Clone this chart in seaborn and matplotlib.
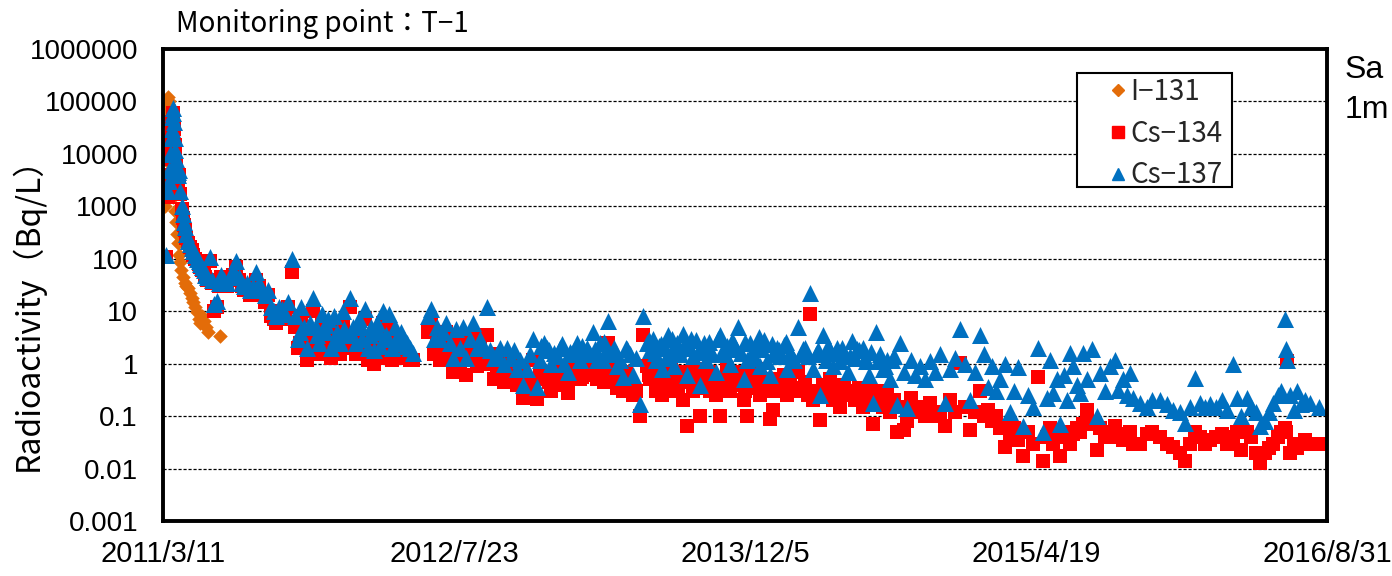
import numpy as np
import pandas as pd
import matplotlib
matplotlib.use("Agg")
import matplotlib.pyplot as plt
import seaborn as sns
from matplotlib.lines import Line2D
from matplotlib.patches import Rectangle
from matplotlib.ticker import NullLocator

# ---------------- data (days since 2011/3/11, Bq/L) ----------------
START = "2011-03-11"

i131_days = [2, 3, 4, 5, 6, 7, 8, 9, 10, 11, 12, 13, 14, 15, 16, 17, 18, 20, 22, 24,
             26, 28, 29, 31, 34, 37, 40, 43, 46, 49, 52, 55, 58, 61, 64, 67, 70, 74, 77, 98]
i131_vals = [3000, 1000, 8000, 20000, 40000, 60000, 90000, 120000, 100000, 70000,
             40000, 20000, 10000, 6000, 4000, 2500, 1500, 800, 500, 300,
             200, 120, 85, 60, 45, 35, 30, 28, 22, 18, 15, 12, 9.5, 7, 6, 8, 6.5, 5, 4, 3.4]

cs_days = [5, 8, 10, 11, 12, 13, 14, 15, 16, 17, 18, 19, 20, 21, 22, 23, 24, 25, 26, 28,
           30, 32, 34, 36, 38, 40, 43, 46, 49, 52, 55, 58, 61, 64, 67, 70, 73, 76, 80, 84,
           88, 92, 96, 100, 105, 110, 115, 120, 125, 130, 135, 140, 145, 150, 155, 160, 165, 170, 175, 180,
           185, 190, 195, 200, 205, 210, 215, 222,
           227, 232, 237, 242, 247, 253, 258, 263, 268, 273, 278, 283, 289, 294, 299, 304, 309, 314, 321, 326,
           332, 337, 342, 347, 352, 357, 362, 368, 373, 378, 383, 388, 393, 399, 404, 409, 414, 419, 424, 430,
           455, 460, 466, 471, 476, 481, 486, 493, 498, 503, 510, 515, 521, 527, 533, 539, 545, 551, 557, 562,
           569, 574, 579, 586, 591, 598, 603, 608, 613, 618, 625, 631, 636, 643, 648,
           655, 660, 667, 672, 677, 682, 689, 696, 701, 706, 711, 716, 723, 728, 734, 739, 746, 751, 756, 761,
           765, 770, 775, 780, 785, 790, 795, 802, 807, 819, 825,
           831, 837, 842, 847, 852, 857, 862, 868, 873, 878, 883, 888, 893, 900, 905, 911, 916, 923, 928, 933,
           938, 943, 950, 957, 962, 969, 974, 981, 988, 993, 998, 1003, 1008, 1015, 1020, 1026, 1033, 1038, 1043, 1048,
           1055, 1060, 1067, 1072, 1077, 1084, 1091, 1096, 1103, 1112, 1117,
           1122, 1129, 1134, 1139, 1146, 1151, 1158, 1163, 1170, 1177, 1184, 1189, 1196, 1203, 1208, 1213, 1220, 1225, 1232, 1237,
           1244, 1249, 1256, 1261, 1266, 1273, 1278, 1285, 1292, 1301, 1309, 1318, 1326, 1335, 1343, 1352, 1361, 1369, 1378, 1386,
           1395, 1404, 1410, 1417, 1424, 1431, 1438, 1447, 1455, 1462, 1469, 1477, 1486, 1495, 1503, 1512, 1519, 1524, 1529, 1536,
           1541, 1548, 1553, 1558, 1563, 1570, 1575, 1580, 1587, 1596, 1605, 1610, 1618, 1627, 1636, 1641, 1649, 1656, 1662, 1667,
           1678, 1690, 1700, 1713, 1725, 1735, 1747, 1756, 1764, 1773, 1781, 1790, 1799, 1809, 1819, 1828, 1838, 1845, 1852, 1862,
           1869, 1878, 1885, 1894, 1901, 1908, 1915, 1921, 1927, 1929, 1931, 1936, 1943, 1948, 1955, 1962, 1970, 1987]

cs134_vals = [110, 1500, 4000, 2500, 8000, 15000, 8000, 25000, 40000, 50000, 60000, 30000, 15000, 10000, 6000, 5000, 4000, 3000, 3500, 4000,
              1700, 900, 600, 450, 350, 250, 200, 170, 150, 120, 100, 90, 80, 70, 60, 55, 45, 40, 90, 35,
              10, 12, 30, 45, 35, 30, 40, 50, 70, 40, 30, 25, 30, 20, 25, 40, 30, 20, 15, 20,
              8, 7, 6, 10, 9, 7, 12, 55,
              5, 2, 8, 3, 1.2, 4, 10, 3, 1.5, 6, 2, 4, 1.3, 5, 2.5, 1.5, 6, 2, 12, 3,
              1.5, 4, 2, 7, 1.2, 3, 1, 4, 1.3, 6, 2, 5, 1.2, 3, 1.5, 2.5, 1.8, 1.5, 1.2, 1.2,
              4, 6, 1.5, 3, 1.2, 2, 4, 1.3, 0.7, 2.5, 1, 3, 0.6, 1.5, 3.5, 0.9, 2, 1, 3.5, 1,
              0.5, 0.8, 1.5, 0.45, 0.8, 0.6, 1, 0.4, 0.6, 0.22, 0.35, 0.5, 1.2, 0.21, 0.6,
              0.7, 0.65, 0.3, 0.5, 0.7, 0.9, 0.4, 0.28, 0.6, 0.8, 0.5, 0.5, 0.7, 1.2, 0.6, 0.9, 0.5, 1.2, 0.5, 0.8,
              2.5, 0.6, 0.9, 0.35, 0.5, 0.3, 0.7, 0.4, 0.25, 0.1, 3.5,
              0.9, 0.5, 0.8, 0.3, 0.6, 0.25, 0.7, 0.4, 0.9, 0.3, 0.6, 0.5, 0.2, 0.064, 0.5, 0.3, 0.8, 0.1, 0.6, 0.35,
              0.7, 0.4, 0.25, 0.1, 0.5, 0.8, 0.3, 0.6, 0.45, 0.7, 0.2, 0.1, 0.6, 0.35, 0.8, 0.25, 0.5, 0.3, 0.09, 0.13,
              0.5, 0.3, 0.6, 0.25, 0.4, 0.3, 0.7, 0.35, 0.45, 9, 0.2,
              0.3, 0.085, 0.4, 0.25, 0.5, 0.2, 0.35, 0.15, 0.4, 0.25, 0.3, 0.2, 0.35, 0.15, 0.3, 0.2, 0.07, 0.25, 0.3, 0.15,
              0.25, 0.12, 0.2, 0.05, 0.15, 0.055, 0.08, 0.22, 0.12, 0.15, 0.1, 0.18, 0.1, 0.12, 0.065, 0.2, 0.12, 1.05, 0.15, 0.055,
              0.12, 0.3, 0.1, 0.13, 0.08, 0.1, 0.06, 0.026, 0.04, 0.06, 0.035, 0.017, 0.05, 0.03, 0.55, 0.014, 0.04, 0.06, 0.03, 0.05,
              0.017, 0.04, 0.05, 0.03, 0.045, 0.06, 0.05, 0.07, 0.13, 0.07, 0.023, 0.06, 0.04, 0.05, 0.065, 0.04, 0.035, 0.045, 0.05, 0.03,
              0.03, 0.045, 0.05, 0.04, 0.03, 0.026, 0.02, 0.014, 0.03, 0.05, 0.04, 0.03, 0.035, 0.04, 0.045, 0.03, 0.04, 0.05, 0.023, 0.05,
              0.04, 0.02, 0.013, 0.02, 0.025, 0.03, 0.04, 0.05, 0.06, 0.05, 1.1, 0.02, 0.03, 0.025, 0.03, 0.035, 0.03, 0.03]

cs137_vals = [120, 2000, 5000, 3000, 10000, 20000, 10000, 30000, 50000, 60000, 75000, 40000, 20000, 12000, 8000, 6000, 5000, 4000, 4500, 5000,
              2000, 1000, 700, 500, 400, 300, 220, 190, 160, 140, 120, 100, 90, 80, 70, 60, 50, 45, 110, 40,
              14, 16, 35, 50, 40, 35, 45, 60, 90, 45, 35, 30, 35, 25, 30, 55, 35, 25, 20, 25,
              12, 10, 8, 12, 11, 9, 15, 100,
              8, 3, 12, 5, 2, 6, 18, 5, 2.5, 9, 4, 7, 2, 8, 4, 2.5, 10, 3.5, 18, 5,
              2.5, 7, 3, 11, 2, 5, 1.8, 6, 2.2, 10, 3.5, 9, 2, 5, 2.5, 4, 3, 2.5, 2, 1.6,
              8, 11, 3, 5, 3, 4, 6, 2.5, 1.3, 4.5, 2, 5, 1.3, 3, 6, 2, 3, 2, 12, 1.8,
              1.3, 1.5, 2, 1, 2, 1.3, 1.8, 0.8, 1.2, 0.4, 0.8, 1.5, 3, 0.36, 1.2,
              2.5, 2, 1, 1.6, 1.4, 2, 1, 0.7, 1.5, 1.8, 2.5, 1.2, 1.6, 2, 1.5, 4, 1.2, 2.5, 1.2, 1.8,
              6.5, 1.5, 2, 0.9, 1.2, 0.55, 2, 1.5, 0.6, 0.17, 8,
              2.5, 1.8, 3, 1.2, 2.2, 0.8, 2, 3.5, 1.6, 0.9, 2.5, 1.5, 3.7, 0.6, 2, 1.4, 2.8, 0.4, 2, 1.2,
              2.6, 1.5, 0.7, 3.5, 1.8, 2.2, 1.0, 2.4, 5, 1.6, 0.5, 1.2, 2.5, 1.3, 2.2, 0.9, 2.8, 1.1, 0.6, 1.5,
              2, 1.4, 2.3, 0.8, 1.6, 1.2, 5, 1.5, 2, 22, 0.8,
              1.5, 0.25, 3.5, 1.2, 1.8, 0.9, 2, 1.1, 1.5, 0.7, 2.7, 1.3, 1.8, 2, 1.1, 0.6, 0.18, 4, 1.5, 0.8,
              1.2, 0.5, 1.4, 0.16, 2.5, 0.7, 0.14, 1.2, 0.6, 0.9, 0.5, 1.1, 0.7, 1.5, 0.18, 0.8, 1.3, 4.5, 1.0, 0.2,
              0.7, 3.5, 1.5, 0.36, 0.9, 0.3, 0.5, 1.0, 0.12, 0.3, 0.85, 0.065, 0.25, 0.15, 2, 0.05, 0.22, 1.2, 0.27, 0.5,
              0.07, 0.6, 0.2, 1.6, 0.9, 0.4, 0.27, 1.6, 0.5, 1.9, 0.1, 0.65, 0.3, 0.9, 1.2, 0.31, 0.5, 0.25, 0.65, 0.22,
              0.18, 0.15, 0.2, 0.2, 0.17, 0.13, 0.12, 0.075, 0.15, 0.53, 0.18, 0.15, 0.17, 0.15, 0.2, 0.13, 1.0, 0.22, 0.1, 0.22,
              0.15, 0.12, 0.065, 0.08, 0.12, 0.18, 0.25, 0.3, 7, 1.9, 1.2, 0.25, 0.13, 0.3, 0.17, 0.2, 0.18, 0.15]

cs_days_extra = [235, 250, 265, 280, 296, 311, 324, 340, 355, 371, 386, 402, 417,
                 650, 664, 686, 699, 720, 742, 758, 778, 798, 812,
                 835, 845, 855, 865, 875, 885, 895, 908, 920, 930, 940, 953, 965, 978, 985, 1000,
                 1012, 1024, 1030, 1046, 1058, 1070, 1082, 1100, 1108,
                 1125, 1143, 1155, 1167, 1181, 1193, 1206, 1216, 1229, 1241, 1253]
cs134_extra = [2.5, 3, 2, 3.5, 2, 2.5, 2, 3, 2, 2.5, 1.8, 2, 1.3,
               0.5, 0.45, 0.6, 0.5, 0.55, 0.6, 0.45, 0.5, 0.35, 0.3,
               0.6, 0.5, 0.4, 0.55, 0.45, 0.35, 0.7, 0.45, 0.6, 0.4, 0.3, 0.5, 0.35, 0.55, 0.4, 0.3,
               0.5, 0.45, 0.35, 0.4, 0.3, 0.45, 0.35, 0.3, 0.25,
               0.3, 0.35, 0.3, 0.25, 0.3, 0.2, 0.25, 0.2, 0.22, 0.18, 0.15]
cs137_extra = [4, 5, 3.5, 5.5, 3, 4.5, 3.5, 5, 3.5, 4, 3, 3.2, 2.2,
               2.2, 1.8, 2.4, 1.7, 2.2, 1.9, 2.6, 1.6, 1.9, 1.3,
               2.8, 1.6, 2.4, 1.3, 2.9, 1.9, 2.2, 3, 1.7, 2.5, 1.8, 2.9, 1.5, 2.7, 1.9, 2.6,
               1.7, 3.2, 1.9, 2.4, 1.8, 2.6, 1.3, 1.9, 1.4,
               1.8, 2.2, 1.6, 2.0, 1.4, 1.9, 1.3, 1.7, 1.1, 0.9, 1.2]

series_names = ["I-131", "Cs-134", "Cs-137"]
legend_labels = ["I\u2212131", "Cs\u2212134", "Cs\u2212137"]
x_tick_days = [0, 500, 1000, 1500, 2000]
x_tick_labels = ["2011/3/11", "2012/7/23", "2013/12/5", "2015/4/19", "2016/8/31"]
y_ticks = [0.001, 0.01, 0.1, 1, 10, 100, 1000, 10000, 100000, 1000000]
y_tick_labels = ["0.001", "0.01", "0.1", "1", "10", "100", "1000", "10000", "100000", "1000000"]

# ---------------- styling ----------------
sns.set_theme(style="white")
plt.rcParams["font.family"] = ["Liberation Sans", "Noto Sans CJK JP", "DejaVu Sans"]
CJK = ["Noto Sans CJK JP", "DejaVu Sans"]

colors = {"I-131": "#E36C09", "Cs-134": "#FF0000", "Cs-137": "#0070C0"}
markers = {"I-131": "D", "Cs-134": "s", "Cs-137": "^"}
sizes = {"I-131": 55, "Cs-134": 110, "Cs-137": 150}

start = pd.Timestamp(START)
all_cs_days = cs_days + cs_days_extra
frames = {
    "I-131": pd.DataFrame({"date": start + pd.to_timedelta(i131_days, unit="D"), "value": i131_vals}),
    "Cs-134": pd.DataFrame({"date": start + pd.to_timedelta(all_cs_days, unit="D"),
                            "value": cs134_vals + cs134_extra}),
    "Cs-137": pd.DataFrame({"date": start + pd.to_timedelta(all_cs_days, unit="D"),
                            "value": cs137_vals + cs137_extra}),
}

fig = plt.figure(figsize=(13.92, 5.76), dpi=100)
fig.patch.set_facecolor("white")
ax = fig.add_axes([163 / 1392, 55 / 576, 1164 / 1392, 472 / 576])
ax.set_facecolor("white")

for name in series_names:
    sns.scatterplot(data=frames[name], x="date", y="value", ax=ax,
                    marker=markers[name], s=sizes[name], color=colors[name],
                    linewidth=0, zorder=3, legend=False)

ax.set_yscale("log")
ax.set_ylim(1e-3, 1e6)
ax.set_xlim(start, start + pd.Timedelta(days=2000))
ax.set_xticks([start + pd.Timedelta(days=d) for d in x_tick_days])
ax.set_xticklabels(x_tick_labels)
ax.set_yticks(y_ticks)
ax.set_yticklabels(y_tick_labels)
ax.yaxis.set_minor_locator(NullLocator())
ax.xaxis.set_minor_locator(NullLocator())
ax.set_xlabel("")
ax.set_ylabel("")

ax.set_axisbelow(True)
ax.yaxis.grid(True, color="black", linestyle=(0, (2.5, 1.5)), linewidth=0.9)
ax.xaxis.grid(False)
for sp in ax.spines.values():
    sp.set_color("black")
    sp.set_linewidth(2.8)
    sp.set_zorder(6)

ax.tick_params(axis="x", direction="in", length=6, width=1, color="black",
               pad=14, labelsize=21, labelcolor="black")
ax.tick_params(axis="y", length=0, pad=18, labelsize=20, labelcolor="black")

fig.text(176 / 1392, 1 - 24 / 576, "Monitoring point\uff1aT\u22121", fontsize=20,
         family=CJK, ha="left", va="center", color="black")
fig.text(28 / 1392, 1 - 306 / 576, "Radioactivity\uff08Bq/L\uff09", fontsize=23,
         family=CJK, rotation=90, ha="center", va="center", color="black")
fig.text(1345 / 1392, 1 - 70 / 576, "Sa", fontsize=23, ha="left", va="center", color="black")
fig.text(1345 / 1392, 1 - 110 / 576, "1m", fontsize=23, ha="left", va="center", color="black")

# legend box
box = Rectangle((1077 / 1392, 1 - 187 / 576), 155 / 1392, 114 / 576, transform=fig.transFigure,
                facecolor="white", edgecolor="black", linewidth=1.5, zorder=7)
fig.patches.append(box)
handles = [Line2D([], [], marker=markers[n], color=colors[n], linestyle="",
                  markersize={"I-131": 6, "Cs-134": 8, "Cs-137": 9}[n]) for n in series_names]
leg = fig.legend(handles, legend_labels, loc="upper left",
                 bbox_to_anchor=(1108 / 1392, 1 - 77 / 576), bbox_transform=fig.transFigure,
                 frameon=False, prop={"family": CJK, "size": 20}, handlelength=0.7,
                 handletextpad=0.1, borderpad=0, labelspacing=0.42, borderaxespad=0)
leg.set_zorder(8)

fig.savefig("out.png", dpi=100, facecolor="white")
